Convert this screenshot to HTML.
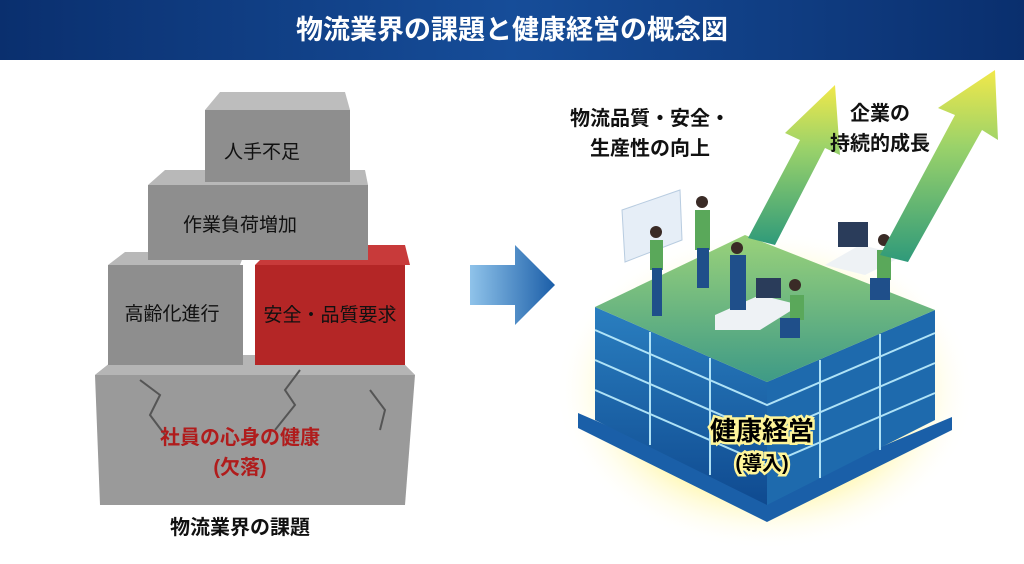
<!DOCTYPE html>
<html><head><meta charset="utf-8"><style>
body{margin:0;width:1024px;height:559px;overflow:hidden;background:#fff;font-family:"Liberation Sans","Noto Sans CJK JP",sans-serif;}
</style></head><body>
<svg width="1024" height="559" viewBox="0 0 1024 559" xmlns="http://www.w3.org/2000/svg" style="font-family:'Liberation Sans','Noto Sans CJK JP',sans-serif">
<defs>
<linearGradient id="hd" x1="0" x2="1"><stop offset="0" stop-color="#0a2f6e"/><stop offset=".5" stop-color="#164d99"/><stop offset="1" stop-color="#0a2f6e"/></linearGradient>
<linearGradient id="ar" x1="0" x2="1"><stop offset="0" stop-color="#8fc3ea"/><stop offset="1" stop-color="#1b5ea8"/></linearGradient>
<linearGradient id="ga" x1="0" y1="1" x2="0" y2="0"><stop offset="0" stop-color="#2f9a7a"/><stop offset=".6" stop-color="#9ad26a"/><stop offset="1" stop-color="#f1e84a"/></linearGradient>
<linearGradient id="top" x1="0" y1="0" x2="0" y2="1"><stop offset="0" stop-color="#9ad27a"/><stop offset="1" stop-color="#3e9a86"/></linearGradient>
<linearGradient id="front" x1="0" y1="0" x2="0" y2="1"><stop offset="0" stop-color="#2a7fc0"/><stop offset="1" stop-color="#0f4a90"/></linearGradient>
<radialGradient id="glow" cx=".5" cy=".5" r=".5"><stop offset=".65" stop-color="#fff59a"/><stop offset="1" stop-color="#fff" stop-opacity="0"/></radialGradient>
</defs>
<rect width="1024" height="60" fill="url(#hd)"/>
<text x="512" y="39" fill="#fff" font-size="27" font-weight="bold" text-anchor="middle">物流業界の課題と健康経営の概念図</text>

<!-- base stone -->
<polygon points="95,375 120,355 395,355 415,375 405,505 100,505" fill="#9a9a9a"/>
<polygon points="95,375 120,355 395,355 415,375" fill="#b5b5b5"/>
<path d="M140,380 l20,15 l-10,20 l15,20 M300,370 l-15,20 l10,15 l-20,25 M370,390 l15,20 l-5,20" stroke="#555" stroke-width="2" fill="none"/>
<text x="240" y="444" fill="#b01c1c" font-size="20" font-weight="bold" text-anchor="middle">社員の心身の健康</text>
<text x="240" y="474" fill="#b01c1c" font-size="20" font-weight="bold" text-anchor="middle">(欠落)</text>
<polygon points="108,265 125,252 245,252 240,265" fill="#b8b8b8"/>
<rect x="108" y="265" width="135" height="100" fill="#8e8e8e"/>
<text x="172" y="320" font-size="19" text-anchor="middle" fill="#111">高齢化進行</text>
<polygon points="255,265 275,245 405,245 410,265" fill="#c83a3a"/>
<rect x="255" y="265" width="150" height="100" fill="#b42626"/>
<text x="330" y="321" font-size="19" text-anchor="middle" fill="#111">安全・品質要求</text>
<polygon points="148,185 165,170 365,170 368,185" fill="#b8b8b8"/>
<rect x="148" y="185" width="220" height="75" fill="#8e8e8e"/>
<text x="240" y="231" font-size="19" text-anchor="middle" fill="#111">作業負荷増加</text>
<polygon points="205,110 220,92 345,92 350,110" fill="#bdbdbd"/>
<rect x="205" y="110" width="145" height="72" fill="#8e8e8e"/>
<text x="262" y="158" font-size="19" text-anchor="middle" fill="#111">人手不足</text>
<text x="240" y="534" font-size="20" font-weight="bold" text-anchor="middle" fill="#111">物流業界の課題</text>

<polygon points="470,265 515,265 515,245 555,285 515,325 515,305 470,305" fill="url(#ar)"/>

<!-- cube -->
<ellipse cx="765" cy="390" rx="210" ry="160" fill="url(#glow)" opacity=".8"/>
<!-- plinth -->
<polygon points="578,413 767,495 952,417 952,430 767,522 578,428" fill="#1a5fa8"/>
<!-- left face -->
<polygon points="595,307 767,382 767,505 595,420" fill="url(#front)"/>
<!-- right face -->
<polygon points="767,382 935,310 935,420 767,505" fill="#1e6aad"/>
<g stroke="#bff0ff" stroke-width="2" fill="none" opacity=".9">
<polyline points="595,330 767,405 935,333"/><polyline points="595,360 767,435 935,363"/><polyline points="595,390 767,465 935,393"/>
<line x1="650" y1="332" x2="650" y2="445"/><line x1="710" y1="358" x2="710" y2="475"/><line x1="820" y1="360" x2="820" y2="478"/><line x1="880" y1="334" x2="880" y2="450"/>
</g>
<polygon points="595,307 745,235 935,310 767,382" fill="url(#top)"/>
<g fill="#000" stroke="#fff59a" stroke-width="5" paint-order="stroke" font-weight="bold" text-anchor="middle">
<text x="762" y="440" font-size="26">健康経営</text>
<text x="762" y="470" font-size="20">(導入)</text>
</g>
<!-- people / desks -->
<polygon points="622,210 680,190 682,240 625,262" fill="#e6eef7" stroke="#b8cce0"/>
<polygon points="715,315 760,295 800,305 760,330 715,330" fill="#eef2f5"/>
<polygon points="825,265 860,245 905,255 865,275" fill="#eef2f5"/>
<rect x="838" y="222" width="30" height="25" fill="#2a3c5a"/>
<rect x="756" y="278" width="25" height="20" fill="#2a3c5a"/>
<g fill="#5aa85a"><rect x="650" y="240" width="13" height="30"/><rect x="695" y="210" width="15" height="40"/><rect x="790" y="295" width="14" height="25"/><rect x="877" y="250" width="14" height="30"/></g>
<g fill="#1f4f8a"><rect x="652" y="268" width="10" height="48"/><rect x="697" y="248" width="12" height="40"/><rect x="730" y="255" width="16" height="55"/><rect x="780" y="318" width="20" height="20"/><rect x="870" y="278" width="20" height="22"/></g>
<g fill="#3a2b26"><circle cx="656" cy="232" r="6"/><circle cx="702" cy="202" r="6"/><circle cx="737" cy="248" r="6"/><circle cx="795" cy="285" r="6"/><circle cx="884" cy="240" r="6"/></g>
<!-- green arrows -->
<polygon points="748,238 800,140 785,133 835,85 840,155 825,148 775,245" fill="url(#ga)"/>
<polygon points="880,255 955,115 938,108 995,70 998,140 982,130 908,262" fill="url(#ga)"/>
<text x="650" y="125" font-size="20" font-weight="bold" text-anchor="middle" fill="#111">物流品質・安全・</text>
<text x="650" y="155" font-size="20" font-weight="bold" text-anchor="middle" fill="#111">生産性の向上</text>
<text x="880" y="120" font-size="20" font-weight="bold" text-anchor="middle" fill="#111">企業の</text>
<text x="880" y="150" font-size="20" font-weight="bold" text-anchor="middle" fill="#111">持続的成長</text>
</svg>
</body></html>
